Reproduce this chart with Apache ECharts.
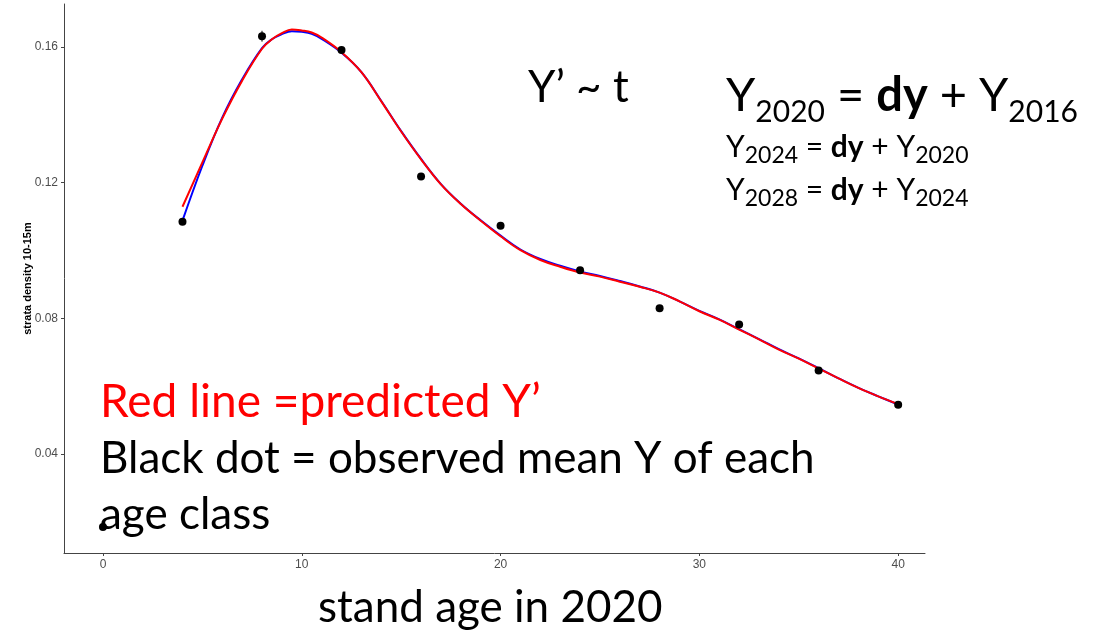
<!DOCTYPE html>
<html><head><meta charset="utf-8">
<script src="https://cdn.jsdelivr.net/npm/echarts@6/dist/echarts.min.js"></script>
<style>html,body{margin:0;padding:0;background:#fff}#c{width:1102px;height:634px}</style>
</head><body><div id="c"></div>
<script>
// observed mean of each age class
const ageClasses = [0, 4, 8, 12, 16, 20, 24, 28, 32, 36, 40];
const observedMean = [0.0185, 0.1085, 0.1632, 0.1591, 0.1218, 0.1073, 0.0942, 0.0830, 0.0782, 0.0646, 0.0545];
// error bar
const errAge = [8];
const errLow = [0.1616];
const errHigh = [0.1648];
// fitted curves
const curveAge = [4,5,6,7,8,8.5,9,9.5,10,10.5,11,12,13,14,15,16,17,18,19,20,21,22,23,24,25,26,27,28,29,30,31,32,33,34,35,36,37,38,39,40];
const predictedRed = [0.1129,0.1260,0.1389,0.1501,0.1595,0.1623,0.1641,0.1652,0.1649,0.1643,0.1628,0.1585,0.1526,0.1440,0.1351,0.1269,0.1195,0.1137,0.1088,0.1042,0.1001,0.0972,0.0952,0.0935,0.0923,0.0908,0.0893,0.0876,0.0850,0.0821,0.0796,0.0767,0.0738,0.0708,0.0681,0.0652,0.0623,0.0595,0.0570,0.0547];
const fittedBlue = [0.1088,0.1250,0.1392,0.1505,0.1597,0.1623,0.1638,0.1647,0.1645,0.1639,0.1624,0.1583,0.1526,0.1441,0.1352,0.1270,0.1196,0.1138,0.1089,0.1044,0.1003,0.0975,0.0955,0.0938,0.0925,0.0910,0.0894,0.0876,0.0850,0.0822,0.0797,0.0768,0.0739,0.0709,0.0682,0.0653,0.0623,0.0595,0.0570,0.0546];
const xTicks = [0, 10, 20, 30, 40];
const yTicks = [0.04, 0.08, 0.12, 0.16];

const zip = (a, b) => a.map((v, i) => [v, b[i]]);
const errData = [];
errAge.forEach((a, i) => { errData.push([a, errLow[i]], [a, errHigh[i]], null); });

const chart = echarts.init(document.getElementById('c'), null, {renderer: 'canvas'});
const tickFont = {color: '#4d4d4d', fontSize: 12, fontFamily: 'Liberation Sans, Arial, sans-serif'};
const slideFont = 'Lato, Carlito, sans-serif';
function eqRich(main, sub, lh, pad) {
  return {
    m: {fontSize: main, fontFamily: slideFont, fill: '#000', lineHeight: lh},
    b: {fontSize: main, fontFamily: slideFont, fontWeight: 'bold', fill: '#000', lineHeight: lh},
    s: {fontSize: sub, fontFamily: slideFont, fill: '#000', padding: [pad, 0, 0, 0]}
  };
}
chart.setOption({
  animation: false,
  backgroundColor: '#fff',
  grid: {left: 64, right: 177, top: 4, bottom: 81, containLabel: false},
  xAxis: {
    type: 'value', min: -1.96, max: 41.35,
    axisLine: {show: true, onZero: false, lineStyle: {color: '#444', width: 1}},
    axisTick: {show: true, length: 3, lineStyle: {color: '#444'}, customValues: xTicks},
    axisLabel: {show: true, margin: 6, ...tickFont, customValues: xTicks, formatter: v => String(v)},
    splitLine: {show: false}
  },
  yAxis: {
    type: 'value', min: 0.0108, max: 0.1727,
    name: 'strata density 10-15m', nameLocation: 'middle', nameGap: 31, nameMoveOverlap: false,
    nameTextStyle: {color: '#000', fontSize: 11, fontWeight: 'bold', fontFamily: 'Liberation Sans, Arial, sans-serif'},
    axisLine: {show: true, onZero: false, lineStyle: {color: '#444', width: 1}},
    axisTick: {show: true, length: 3, lineStyle: {color: '#444'}, customValues: yTicks},
    axisLabel: {show: true, margin: 6, ...tickFont, customValues: yTicks, formatter: v => v.toFixed(2)},
    splitLine: {show: false}
  },
  series: [
    {type: 'line', data: zip(curveAge, fittedBlue), smooth: 0.4, showSymbol: false,
     lineStyle: {color: '#0000ff', width: 2}, z: 2},
    {type: 'line', data: zip(curveAge, predictedRed), smooth: 0.4, showSymbol: false,
     lineStyle: {color: '#ff0000', width: 2}, z: 3},
    {type: 'line', data: errData, showSymbol: false, connectNulls: false,
     lineStyle: {color: '#000', width: 1}, z: 4},
    {type: 'scatter', data: zip(ageClasses, observedMean), symbol: 'circle', symbolSize: 8,
     itemStyle: {color: '#000', opacity: 1}, z: 5}
  ],
  graphic: [
    {type: 'text', left: 528, top: 66, z: 10, style: {text: 'Y’ ~ t', font: '44px ' + slideFont, fill: '#000'}},
    {type: 'text', left: 726, top: 72, z: 10, style: {
      text: '{m|Y}{s|2020}{m| = }{b|dy}{m| + Y}{s|2016}', rich: eqRich(47, 30, 66, 34)}},
    {type: 'text', left: 726, top: 132, z: 10, style: {
      text: '{m|Y}{s|2024}{m| = }{b|dy}{m| + Y}{s|2020}', rich: eqRich(30, 23, 44, 18)}},
    {type: 'text', left: 726, top: 175, z: 10, style: {
      text: '{m|Y}{s|2028}{m| = }{b|dy}{m| + Y}{s|2024}', rich: eqRich(30, 23, 44, 18)}},
    {type: 'text', left: 100, top: 379, z: 10, style: {text: 'Red line =predicted Y’', font: '46px ' + slideFont, fill: '#ff0000'}},
    {type: 'text', left: 100, top: 437, z: 10, style: {text: 'Black dot = observed mean Y of each', font: '44px ' + slideFont, fill: '#000'}},
    {type: 'text', left: 100, top: 493, z: 10, style: {text: 'age class', font: '44px ' + slideFont, fill: '#000'}},
    {type: 'text', left: 318, top: 586, z: 10, style: {text: 'stand age in 2020', font: '44px ' + slideFont, fill: '#000'}}
  ]
});
</script></body></html>
